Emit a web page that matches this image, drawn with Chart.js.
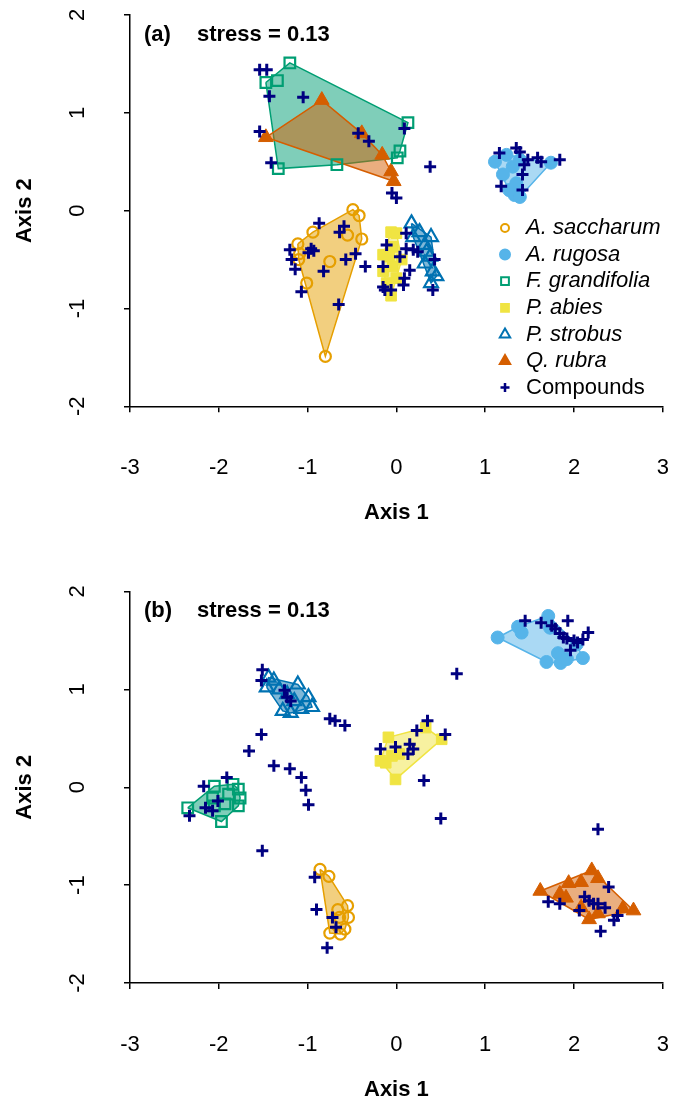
<!DOCTYPE html>
<html>
<head>
<meta charset="utf-8">
<title>NMDS ordination</title>
<script src="https://cdn.jsdelivr.net/npm/chart.js@4.4.1/dist/chart.umd.min.js"></script>
<style>
  body{margin:0;background:#fff;}
  #wrap{position:relative;width:673px;height:1103px;}
  #wrap canvas{position:absolute;left:0;}
</style>
</head>
<body>
<div id="wrap">
  <canvas id="chart-a" width="673" height="551" style="top:0;"></canvas>
  <canvas id="chart-b" width="673" height="552" style="top:551px;"></canvas>
</div>
<script>
/* ═══════════════════════════════════
   DATA  (axis 1, axis 2)
═══════════════════════════════════ */
var xTicks = [-3,-2,-1,0,1,2,3];
var yTicks = [-2,-1,0,1,2];
var speciesNames = ['A. saccharum','A. rugosa','F. grandifolia','P. abies','P. strobus','Q. rubra'];
var stressA = 0.13, stressB = 0.13;

/* panel (a) */
var saccharumA = [[-0.49,0.01],[-0.42,-0.05],[-0.94,-0.22],[-0.55,-0.25],[-0.39,-0.29],[-1.11,-0.34],[-1.09,-0.44],[-1.10,-0.50],[-0.75,-0.52],[-1.01,-0.74],[-0.80,-1.49]];
var rugosaA = [[1.11,0.50],[1.24,0.57],[1.20,0.37],[1.31,0.45],[1.35,0.28],[1.33,0.16],[1.39,0.52],[1.74,0.49],[1.39,0.14],[1.27,0.21]];
var grandifoliaA = [[-1.20,1.51],[-1.47,1.31],[-1.34,1.33],[0.13,0.90],[0.04,0.61],[0.01,0.54],[-0.67,0.47],[-1.33,0.43]];
var abiesA = [[-0.06,-0.22],[0.00,-0.23],[-0.04,-0.37],[-0.08,-0.47],[0.06,-0.50],[-0.15,-0.62],[-0.04,-0.57],[0.00,-0.69],[-0.11,-0.74],[-0.06,-0.87],[-0.15,-0.45]];
var strobusA = [[0.17,-0.13],[0.26,-0.22],[0.39,-0.27],[0.19,-0.27],[0.32,-0.35],[0.34,-0.42],[0.32,-0.54],[0.41,-0.62],[0.45,-0.67],[0.39,-0.74],[0.38,-0.47]];
var rubraA = [[-0.84,1.13],[-1.47,0.75],[-0.39,0.79],[-0.16,0.57],[-0.06,0.40],[-0.03,0.30]];
var compoundsA = [
  [-1.54,1.44],[-1.46,1.44],[-1.43,1.17],[-1.05,1.16],[-1.54,0.81],[-1.41,0.49],[-0.43,0.79],[-0.31,0.71],[0.09,0.84],[0.38,0.45],[-0.05,0.18],[0.00,0.13],
  [-0.87,-0.13],[-0.59,-0.16],[-0.64,-0.22],[-0.96,-0.39],[-0.93,-0.41],[-0.99,-0.43],[-1.20,-0.40],[-1.18,-0.50],[-1.14,-0.60],[-1.07,-0.83],[-0.82,-0.62],[-0.57,-0.50],[-0.46,-0.44],[-0.35,-0.57],[-0.65,-0.96],
  [0.11,-0.23],[-0.11,-0.35],[0.11,-0.39],[0.19,-0.40],[0.24,-0.42],[0.15,-0.61],[0.09,-0.69],[0.08,-0.76],[-0.15,-0.78],[-0.13,-0.81],[-0.06,-0.81],[0.41,-0.81],[0.43,-0.50],[-0.15,-0.57],[0.04,-0.47],
  [1.35,0.64],[1.39,0.60],[1.48,0.52],[1.59,0.54],[1.63,0.50],[1.84,0.52],[1.16,0.59],[1.18,0.25],[1.42,0.21],[1.42,0.37],[1.44,0.47]
];

/* panel (b) */
var saccharumB = [[-0.86,-0.84],[-0.76,-0.91],[-0.55,-1.21],[-0.54,-1.33],[-0.66,-1.25],[-0.64,-1.33],[-0.58,-1.45],[-0.75,-1.49],[-0.63,-1.50]];
var rugosaB = [[1.14,1.53],[1.37,1.64],[1.41,1.58],[1.71,1.75],[1.73,1.63],[2.03,1.46],[2.10,1.32],[1.82,1.37],[1.69,1.28],[1.85,1.27],[1.92,1.31]];
var grandifoliaB = [[-2.35,-0.21],[-2.05,0.01],[-1.84,0.03],[-1.78,-0.02],[-1.76,-0.11],[-1.78,-0.19],[-1.97,-0.35],[-2.07,-0.11],[-2.05,-0.19],[-1.89,-0.07],[-1.93,-0.17]];
var abiesB = [[-0.09,0.51],[-0.18,0.27],[-0.12,0.25],[-0.01,0.08],[0.33,0.61],[0.51,0.49],[0.03,0.34],[-0.05,0.32]];
var strobusB = [[-1.44,1.12],[-1.38,1.09],[-1.46,1.02],[-1.11,1.05],[-0.99,0.92],[-0.95,0.82],[-1.23,0.95],[-1.28,0.78],[-1.19,0.76],[-1.07,0.80],[-1.32,1.00],[-1.15,0.88]];
var rubraB = [[1.62,-1.06],[1.94,-0.98],[2.20,-0.85],[2.27,-0.93],[2.08,-0.97],[1.84,-1.09],[1.91,-1.13],[2.67,-1.26],[2.55,-1.24],[2.17,-1.35],[2.27,-1.29],[2.08,-1.23]];
var compoundsB = [
  [1.45,1.70],[1.63,1.68],[1.75,1.65],[1.79,1.62],[1.93,1.70],[2.16,1.58],[1.84,1.57],[1.88,1.53],[1.92,1.52],[2.00,1.50],[2.04,1.48],[2.10,1.51],[1.96,1.40],
  [0.68,1.16],
  [-1.51,1.20],[-1.52,1.09],[-1.26,0.99],[-1.23,0.92],[-1.19,0.88],[-0.75,0.70],[-0.69,0.68],[-0.58,0.63],[-1.52,0.54],[-1.66,0.37],[-1.38,0.22],[-1.20,0.19],[-1.07,0.10],[-1.02,-0.03],[-0.99,-0.18],
  [0.31,0.07],[0.50,-0.32],[2.27,-0.43],
  [0.35,0.68],[0.23,0.58],[0.55,0.54],[0.15,0.44],[0.19,0.39],[0.13,0.34],[-0.18,0.39],[-0.01,0.41],
  [-2.17,0.01],[-1.91,0.10],[-2.33,-0.29],[-2.15,-0.21],[-2.07,-0.24],[-2.01,-0.14],
  [-1.51,-0.65],
  [-0.92,-0.92],[-0.90,-1.25],[-0.78,-1.64],[-0.72,-1.33],[-0.68,-1.43],
  [2.39,-1.02],[1.71,-1.17],[1.84,-1.19],[2.12,-1.12],[2.17,-1.16],[2.22,-1.19],[2.06,-1.26],[2.35,-1.23],[2.45,-1.36],[2.49,-1.31],[2.30,-1.47],[2.27,-1.19]
];

/* ═══════════════════════════════════
   STYLE
═══════════════════════════════════ */
var FONT = "'Liberation Sans', Arial, sans-serif";
var COMP_COLOR = '#000080';
// marker look per species: [colour, pointStyle, open?, radius, legend radius]
var SPECIES_STYLE = [
  ['#E69F00','circle',true,5.5,4],
  ['#56B4E9','circle',false,6.5,5],
  ['#009E73','rect',true,7.5,5.5],
  ['#F0E442','rect',false,7.5,5.5],
  ['#0072B2','triangle',true,8,6],
  ['#D55E00','triangle',false,8.5,6]
];

Chart.defaults.font.family = FONT;
Chart.defaults.color = '#000';

function rgba(hex, a){
  var n = parseInt(hex.slice(1),16);
  return 'rgba('+(n>>16)+','+((n>>8)&255)+','+(n&255)+','+a+')';
}

function toXY(arr){
  return arr.map(function(d){return {x:d[0],y:d[1]};});
}

/* convex hull (monotone chain), closed back to its first point */
function hull(arr){
  var p = toXY(arr).sort(function(a,b){return a.x-b.x || a.y-b.y;});
  function cross(o,a,b){return (a.x-o.x)*(b.y-o.y)-(a.y-o.y)*(b.x-o.x);}
  var lower = [], upper = [];
  p.forEach(function(q){
    while(lower.length>=2 && cross(lower[lower.length-2],lower[lower.length-1],q)<=0) lower.pop();
    lower.push(q);
  });
  for(var i=p.length-1;i>=0;i--){
    var q = p[i];
    while(upper.length>=2 && cross(upper[upper.length-2],upper[upper.length-1],q)<=0) upper.pop();
    upper.push(q);
  }
  upper.pop(); lower.pop();
  var h = lower.concat(upper);
  h.push(h[0]);
  return h;
}

function buildDatasets(groups, comps){
  var ds = [];
  // hulls first, lowest layer; Q. rubra ends up on top of F. grandifolia
  SPECIES_STYLE.forEach(function(s,i){
    ds.push({
      label:speciesNames[i]+' hull', data:hull(groups[i]), showLine:true, fill:'shape',
      backgroundColor:rgba(s[0],0.5), borderColor:s[0], borderWidth:1.5,
      pointRadius:0, tension:0, order:20-i
    });
  });
  SPECIES_STYLE.forEach(function(s,i){
    ds.push({
      label:speciesNames[i], data:toXY(groups[i]), showLine:false,
      pointStyle:s[1], pointRadius:s[3], borderColor:s[0], borderWidth:s[2]?2.2:1,
      backgroundColor:s[2]?'rgba(0,0,0,0)':s[0], order:5
    });
  });
  ds.push({
    label:'Compounds', data:toXY(comps), showLine:false,
    pointStyle:'cross', pointRadius:6, borderColor:COMP_COLOR, borderWidth:3, order:0
  });
  return ds;
}

/* rotated y tick labels, panel tag, stress and legend */
var panelText = {
  id:'panelText',
  afterDraw:function(chart, args, o){
    var ctx = chart.ctx, ys = chart.scales.y;
    ctx.save();
    ctx.fillStyle = '#000';
    ctx.font = '22px '+FONT;
    ctx.textAlign = 'center';
    ctx.textBaseline = 'middle';
    ys.ticks.forEach(function(t){
      ctx.save();
      ctx.translate(78, ys.getPixelForValue(t.value));
      ctx.rotate(-Math.PI/2);
      ctx.fillText(String(t.value), 0, 0);
      ctx.restore();
    });

    ctx.textAlign = 'left';
    ctx.font = 'bold 22px '+FONT;
    ctx.fillText(o.tag, 144, o.tagY);
    ctx.fillText('stress = '+o.stress.toFixed(2), 197, o.tagY);

    if(o.legend){
      var y0 = 228, step = 26.6;
      speciesNames.concat(['Compounds']).forEach(function(name,i){
        var y = y0 + i*step;
        ctx.save();
        ctx.lineWidth = 2;
        if(i < SPECIES_STYLE.length){
          var s = SPECIES_STYLE[i];
          ctx.strokeStyle = s[0];
          ctx.fillStyle = s[2] ? 'rgba(0,0,0,0)' : s[0];
          Chart.helpers.drawPoint(ctx, {pointStyle:s[1], radius:s[4], rotation:0, borderWidth:s[2]?2:1}, 505, y);
        } else {
          ctx.strokeStyle = COMP_COLOR;
          ctx.lineWidth = 2.5;
          Chart.helpers.drawPoint(ctx, {pointStyle:'cross', radius:4.5, rotation:0, borderWidth:2.5}, 505, y);
        }
        ctx.restore();
        ctx.fillStyle = '#000';
        ctx.font = (i < SPECIES_STYLE.length ? 'italic ' : '') + '22px '+FONT;
        ctx.fillText(name, 526, y);
      });
    }
    ctx.restore();
  }
};

function makeChart(id, groups, comps, cfg){
  var ctx = document.getElementById(id);
  return new Chart(ctx, {
    type:'scatter',
    data:{datasets:buildDatasets(groups, comps)},
    options:{
      responsive:false,
      animation:false,
      events:[],
      layout:{padding:{left:0,right:9.7,top:cfg.padTop,bottom:0}},
      plugins:{
        legend:{display:false},
        tooltip:{enabled:false},
        panelText:{tag:cfg.tag, tagY:cfg.tagY, stress:cfg.stress, legend:cfg.legend}
      },
      scales:{
        x:{
          type:'linear', min:xTicks[0], max:xTicks[xTicks.length-1],
          afterBuildTicks:function(s){s.ticks = xTicks.map(function(v){return {value:v};});},
          // fixed axis box; the big label gap must not eat into the right edge
          afterFit:function(s){s.height = cfg.axisH; s.paddingLeft = 12; s.paddingRight = 8;},
          grid:{drawOnChartArea:false, drawTicks:true, tickLength:6, color:'#000', lineWidth:1.5},
          border:{display:true, color:'#000', width:1.5},
          ticks:{font:{size:22}, padding:42.5, maxRotation:0, autoSkip:false, color:'#000'},
          title:{display:true, text:'Axis 1', font:{size:22, weight:'bold'}, padding:{top:0,bottom:cfg.titleBottom}, color:'#000'}
        },
        y:{
          type:'linear', min:yTicks[0], max:yTicks[yTicks.length-1],
          afterBuildTicks:function(s){s.ticks = yTicks.map(function(v){return {value:v};});},
          afterFit:function(s){s.width = 130;},
          grid:{drawOnChartArea:false, drawTicks:true, tickLength:6, color:'#000', lineWidth:1.5},
          border:{display:true, color:'#000', width:1.5},
          ticks:{display:false},
          title:{display:true, text:'Axis 2', font:{size:22, weight:'bold'}, padding:{top:12,bottom:0}, color:'#000'}
        }
      }
    },
    plugins:[panelText]
  });
}

/* ═══════════════════════════════════
   INIT
═══════════════════════════════════ */
makeChart('chart-a', [saccharumA,rugosaA,grandifoliaA,abiesA,strobusA,rubraA], compoundsA,
  {padTop:15, axisH:144.7, titleBottom:24.8, tag:'(a)', tagY:35, stress:stressA, legend:true});
makeChart('chart-b', [saccharumB,rugosaB,grandifoliaB,abiesB,strobusB,rubraB], compoundsB,
  {padTop:40.5, axisH:120, titleBottom:0, tag:'(b)', tagY:60, stress:stressB, legend:false});
</script>
</body>
</html>
